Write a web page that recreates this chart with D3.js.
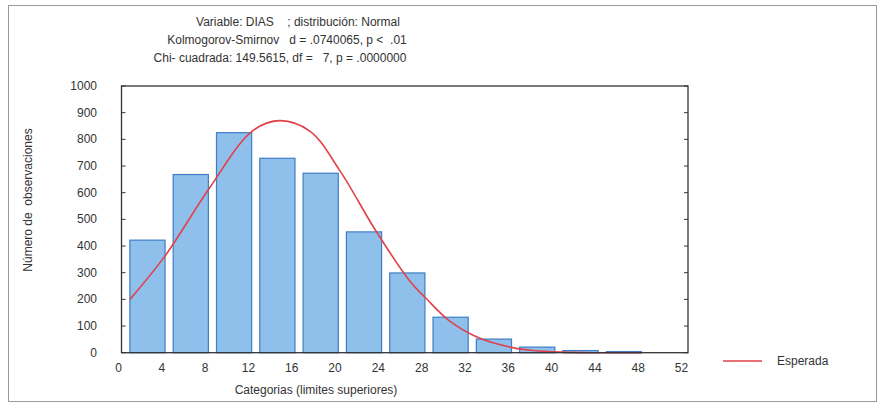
<!DOCTYPE html>
<html>
<head>
<meta charset="utf-8">
<script src="https://cdn.jsdelivr.net/npm/d3@7"></script>
<style>
    body { margin: 0; background: #fff; }
    text { font-family: "Liberation Sans", Arial, sans-serif; fill: #333; }
</style>
</head>
<body>
<div id="chart-holder"></div>
<script>
// upper limits of each category and observed counts
var upperLimits = [4, 8, 12, 16, 20, 24, 28, 32, 36, 40, 44, 48];
var observed = [422, 668, 825, 729, 673, 453, 299, 133, 51, 21, 8, 4];

// expected (normal) curve
var expectedX = [1.06, 4.3, 8.36, 12.36, 14.9, 17.7, 20.5, 23.75, 26.9, 28.4, 30.6, 33.2, 36.3, 38.3, 41, 44, 48.3];
var expectedY = [200, 363, 615, 831, 870, 830, 679, 458, 269, 204, 118, 57, 20, 8, 2, 0, 0];

var xTicks = d3.range(0, 53, 4);
var yTicks = d3.range(0, 1001, 100);

var titleLines = [
    'Variable: DIAS    ; distribución: Normal',
    'Kolmogorov-Smirnov   d = .0740065, p <  .01',
    'Chi- cuadrada: 149.5615, df =   7, p = .0000000'
];

(function () {
    "use strict";
    var width = 881, height = 404,
        plot = { left: 121.5, right: 688, top: 86, bottom: 352.7 },
        svg = d3.select('#chart-holder').append('svg')
            .attr('width', width).attr('height', height);

    var x = d3.scaleLinear().domain([0, 52]).range([118.5, 681.5]),
        y = d3.scaleLinear().domain([0, 1000]).range([plot.bottom, plot.top]);

    // outer border of the graph window
    svg.append('rect')
        .attr('x', 8.5).attr('y', 5.5)
        .attr('width', 868).attr('height', 396)
        .attr('fill', 'none').attr('stroke', '#9a9a9a').attr('stroke-width', 1);

    // title block
    var titleX = [298, 287, 280], titleY = [26, 44, 62];
    svg.selectAll('text.title').data(titleLines).enter().append('text')
        .attr('class', 'title')
        .attr('x', function (d, i) { return titleX[i]; })
        .attr('y', function (d, i) { return titleY[i]; })
        .attr('text-anchor', 'middle')
        .style('font-size', '12px')
        .style('white-space', 'pre')
        .text(function (d) { return d; });

    // bars
    svg.selectAll('rect.bar').data(upperLimits).enter().append('rect')
        .attr('class', 'bar')
        .attr('x', function (d) { return x(d - 2.95); })
        .attr('width', function (d) { return x(d + 0.3) - x(d - 2.95); })
        .attr('y', function (d, i) { return y(observed[i]); })
        .attr('height', function (d, i) { return y(0) - y(observed[i]); })
        .attr('fill', '#8fc0ec')
        .attr('stroke', '#3f7dc8')
        .attr('stroke-width', 1.2);

    // expected curve
    var line = d3.line()
        .x(function (d) { return x(d); })
        .y(function (d, i) { return y(expectedY[i]); })
        .curve(d3.curveCatmullRom.alpha(0.5));
    svg.append('path')
        .attr('d', line(expectedX))
        .attr('fill', 'none')
        .attr('stroke', '#e0414a')
        .attr('stroke-width', 1.6);

    // frame
    svg.append('rect')
        .attr('x', plot.left).attr('y', plot.top)
        .attr('width', plot.right - plot.left).attr('height', plot.bottom - plot.top)
        .attr('fill', 'none').attr('stroke', '#333').attr('stroke-width', 1.3);

    // inward ticks on both y sides
    svg.selectAll('line.ltick').data(yTicks).enter().append('line')
        .attr('x1', plot.left).attr('x2', plot.left + 4)
        .attr('y1', function (d) { return y(d); }).attr('y2', function (d) { return y(d); })
        .attr('stroke', '#333');
    svg.selectAll('line.rtick').data(yTicks).enter().append('line')
        .attr('x1', plot.right).attr('x2', plot.right - 4)
        .attr('y1', function (d) { return y(d); }).attr('y2', function (d) { return y(d); })
        .attr('stroke', '#333');

    // y tick labels
    svg.selectAll('text.ylab').data(yTicks).enter().append('text')
        .attr('x', 97)
        .attr('y', function (d) { return y(d) + 4; })
        .attr('text-anchor', 'end')
        .style('font-size', '12px')
        .text(function (d) { return d; });

    // x tick labels
    svg.selectAll('text.xlab').data(xTicks).enter().append('text')
        .attr('x', function (d) { return x(d); })
        .attr('y', 372)
        .attr('text-anchor', 'middle')
        .style('font-size', '12px')
        .text(function (d) { return d; });

    // axis titles
    svg.append('text')
        .attr('transform', 'translate(32,200) rotate(-90)')
        .attr('text-anchor', 'middle')
        .style('font-size', '12px')
        .style('white-space', 'pre')
        .text('Número de  observaciones');
    svg.append('text')
        .attr('x', 316).attr('y', 394)
        .attr('text-anchor', 'middle')
        .style('font-size', '12px')
        .text('Categorias (limites superiores)');

    // legend
    svg.append('line')
        .attr('x1', 723).attr('x2', 762).attr('y1', 361).attr('y2', 361)
        .attr('stroke', '#e0414a').attr('stroke-width', 1.6);
    svg.append('text')
        .attr('x', 777).attr('y', 365)
        .style('font-size', '12px')
        .text('Esperada');
})();
</script>
</body>
</html>
